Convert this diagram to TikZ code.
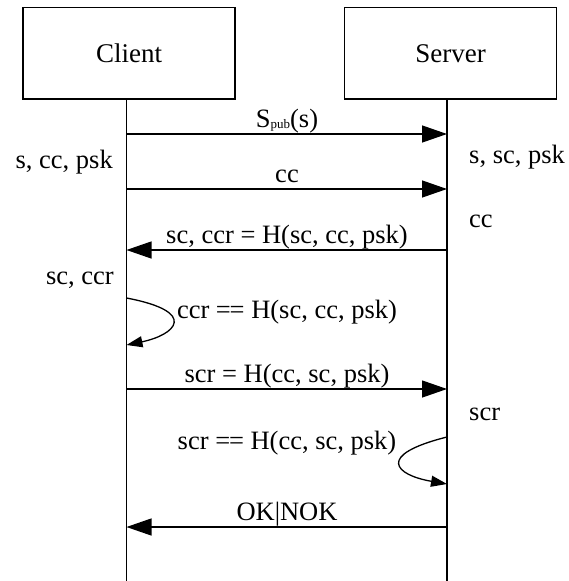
\documentclass[tikz,border=0pt]{standalone}
\usepackage{fontspec}
\setmainfont{Liberation Serif}
\usetikzlibrary{arrows.meta}
\newcommand{\dbleq}{=\kern-1.2pt=}
\begin{document}
\begin{tikzpicture}[x=1pt,y=-1pt,
  bigtext/.style={font=\fontsize{26.5}{30}\selectfont},
  actor/.style={draw, line width=1.5pt, minimum width=212pt, minimum height=91.5pt,
                inner sep=0pt, font=\fontsize{27}{30}\selectfont},
  lifeline/.style={line width=1.4pt},
  msg/.style={line width=1.3pt, -{Triangle[length=25pt,width=17pt]}},
  selfmsg/.style={line width=1.3pt, -{Triangle[length=16pt,width=11pt]}},
  lbl/.style={anchor=base, inner sep=0pt, bigtext},
  leftnote/.style={anchor=base east, inner sep=0pt, bigtext},
  rightnote/.style={anchor=base west, inner sep=0pt, bigtext}]
\useasboundingbox (0,0) rectangle (569,581);

% participants
\node[actor] (client) at (129,53.25) {Client};
\node[actor] (server) at (450.5,53.25) {Server};

% lifelines
\coordinate (ctop) at (126.5,99);
\coordinate (cbot) at (126.5,581);
\coordinate (stop) at (447,99);
\coordinate (sbot) at (447,581);
\draw[lifeline] (ctop) -- (cbot);
\draw[lifeline] (stop) -- (sbot);

% anchor points on the lifelines
\coordinate (c1) at (126.5,134);  \coordinate (s1) at (447,134);
\coordinate (c2) at (126.5,189);  \coordinate (s2) at (447,189);
\coordinate (c3) at (126.5,250);  \coordinate (s3) at (447,250);
\coordinate (c4a) at (126.5,298); \coordinate (c4b) at (126.5,345);
\coordinate (c5) at (126.5,389);  \coordinate (s5) at (447,389);
\coordinate (s6a) at (447,437);   \coordinate (s6b) at (447,484);
\coordinate (c7) at (126.5,527);  \coordinate (s7) at (447,527);

% messages
\draw[msg] (c1) -- (s1);
\node[lbl] (m1) at (287,127) {S\raisebox{-1.5pt}{\fontsize{13}{13}\selectfont pub}(s)};

\draw[msg] (c2) -- (s2);
\node[lbl] (m2) at (287,182) {cc};

\draw[msg] (s3) -- (c3);
\node[lbl] (m3) at (287,243) {sc, ccr = H(sc, cc, psk)};

\draw[selfmsg] (c4a) .. controls (200,312) and (175,335) .. (c4b);
\node[lbl] (m4) at (287,318) {ccr \dbleq{} H(sc, cc, psk)};

\draw[msg] (c5) -- (s5);
\node[lbl] (m5) at (287,382) {scr = H(cc, sc, psk)};

\draw[selfmsg] (s6a) .. controls (375,455) and (395,475) .. (s6b);
\node[lbl] (m6) at (287,449) {scr \dbleq{} H(cc, sc, psk)};

\draw[msg] (s7) -- (c7);
\node[lbl] (m7) at (287,520) {OK|NOK};

% local state notes
\node[leftnote] (n1) at (113,168) {s, cc, psk};
\node[leftnote] (n2) at (114,284) {sc, ccr};
\node[rightnote] (n3) at (469,163) {s, sc, psk};
\node[rightnote] (n4) at (469,227) {cc};
\node[rightnote] (n5) at (469,420) {scr};
\end{tikzpicture}
\end{document}
